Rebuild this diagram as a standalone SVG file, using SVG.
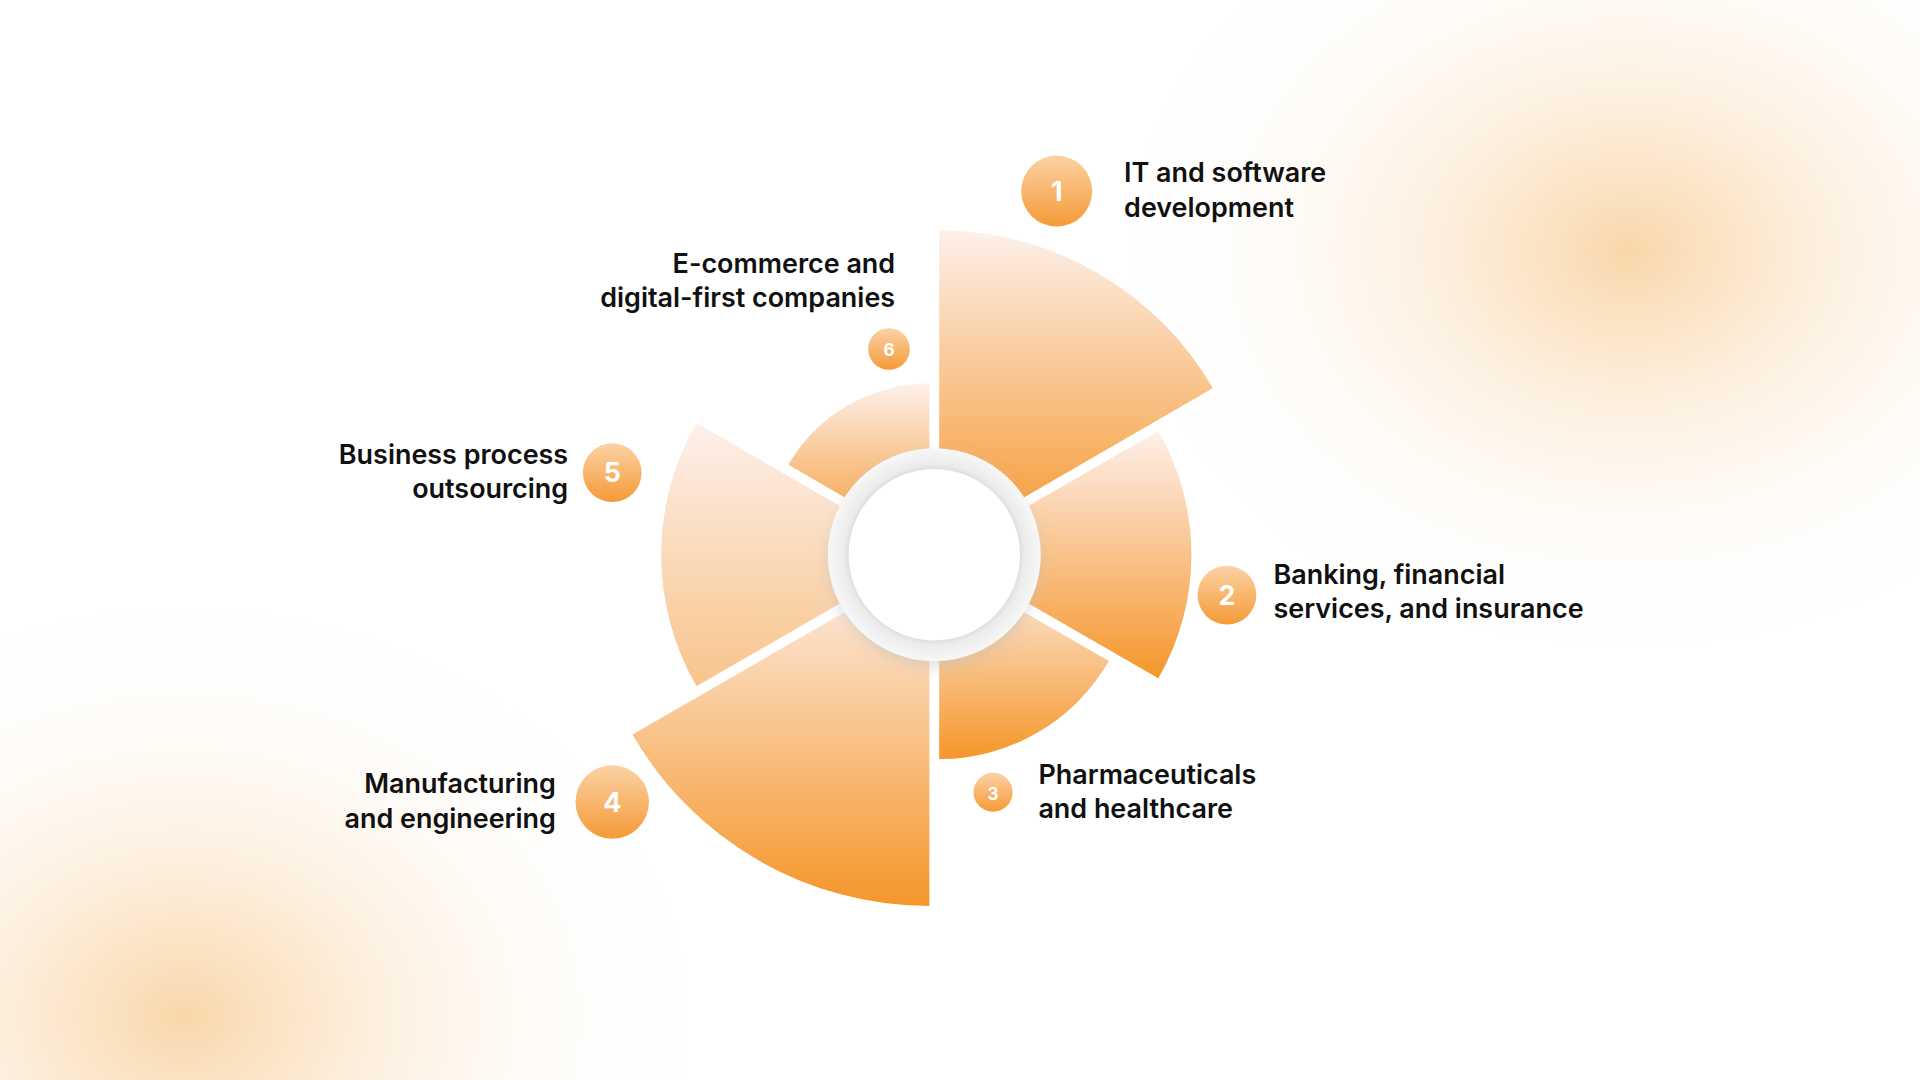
<svg xmlns="http://www.w3.org/2000/svg" width="1920" height="1080" viewBox="0 0 1920 1080">
<defs>
<radialGradient id="blob" cx="0.5" cy="0.5" r="0.5"><stop offset="0" stop-color="#f7c98c" stop-opacity="0.75"/><stop offset="0.5" stop-color="#fbe3c4" stop-opacity="0.35"/><stop offset="1" stop-color="#ffffff" stop-opacity="0"/></radialGradient>
<linearGradient id="sec" x1="0" y1="0" x2="0" y2="1"><stop offset="0" stop-color="#fdf0ea"/><stop offset="1" stop-color="#f5962a"/></linearGradient>
<linearGradient id="sec5" x1="0" y1="0" x2="0" y2="1"><stop offset="0" stop-color="#fdf0ea"/><stop offset="1" stop-color="#f8c48a"/></linearGradient>
<linearGradient id="badge" x1="0" y1="0" x2="0" y2="1"><stop offset="0" stop-color="#fbd2a6"/><stop offset="1" stop-color="#f59a36"/></linearGradient>
<radialGradient id="ring" cx="0.5" cy="0.5" r="0.5"><stop offset="0.78" stop-color="#d8d8d8"/><stop offset="0.85" stop-color="#ececec"/><stop offset="1" stop-color="#f7f7f7"/></radialGradient>
<filter id="sh" x="-30%" y="-30%" width="160%" height="160%"><feGaussianBlur stdDeviation="6"/></filter>
<style>
text{font-family:Inter,"Noto Sans","Liberation Sans",sans-serif;font-weight:600;font-size:22px;fill:#111}
.r{text-anchor:end}
.n{fill:#fff;text-anchor:middle;font-weight:700}
.b{fill:url(#badge)}
</style>
</defs>
<rect width="1920" height="1080" fill="#fff"/>
<g transform="scale(1.2245)">
<ellipse cx="1330" cy="205" rx="420" ry="330" fill="url(#blob)"/>
<ellipse cx="150" cy="830" rx="420" ry="340" fill="url(#blob)"/>
<g id="sectors">
<path id="s1" d="M767,446.1 L767,188.1 A258,258 0 0 1 990.4,317.1 Z" fill="url(#sec)"/>
<path id="s2" d="M771,453 L945.9,352 A202,202 0 0 1 945.9,554 Z" fill="url(#sec)"/>
<path id="s3" d="M767,459.9 L905.6,539.9 A160,160 0 0 1 767,619.9 Z" fill="url(#sec)"/>
<path id="s4" d="M759,459.9 L759,739.9 A280,280 0 0 1 516.5,599.9 Z" fill="url(#sec)"/>
<path id="s5" d="M755,453 L568.8,560.5 A215,215 0 0 1 568.8,345.5 Z" fill="url(#sec5)"/>
<path id="s6" d="M759,446.1 L643.8,379.6 A133,133 0 0 1 759,313.1 Z" fill="url(#sec)"/>
</g>
<g id="hub">
<circle cx="763" cy="458" r="86" fill="#bbb" opacity="0.5" filter="url(#sh)"/>
<circle cx="763" cy="453" r="87" fill="url(#ring)"/>
<circle cx="763" cy="453" r="70" fill="#fff"/>
</g>
<g id="n1"><circle class="b" cx="863" cy="156" r="29"/><text class="n" x="863" y="164">1</text><text x="918" y="149">IT and software</text><text x="918" y="177">development</text></g>
<g id="n2"><circle class="b" cx="1002" cy="486" r="24"/><text class="n" x="1002" y="494">2</text><text x="1040" y="477">Banking, financial</text><text x="1040" y="505">services, and insurance</text></g>
<g id="n3"><circle class="b" cx="811" cy="647" r="16"/><text class="n" x="811" y="653" style="font-size:14px">3</text><text x="848" y="640">Pharmaceuticals</text><text x="848" y="668">and healthcare</text></g>
<g id="n4"><circle class="b" cx="500" cy="655" r="30"/><text class="n" x="500" y="663">4</text><text class="r" x="454" y="648">Manufacturing</text><text class="r" x="454" y="676">and engineering</text></g>
<g id="n5"><circle class="b" cx="500" cy="386" r="24"/><text class="n" x="500" y="394">5</text><text class="r" x="464" y="379">Business process</text><text class="r" x="464" y="407">outsourcing</text></g>
<g id="n6"><circle class="b" cx="726" cy="285" r="17"/><text class="n" x="726" y="291" style="font-size:14px">6</text><text class="r" x="731" y="223">E-commerce and</text><text class="r" x="731" y="251">digital-first companies</text></g>
</g>
</svg>
